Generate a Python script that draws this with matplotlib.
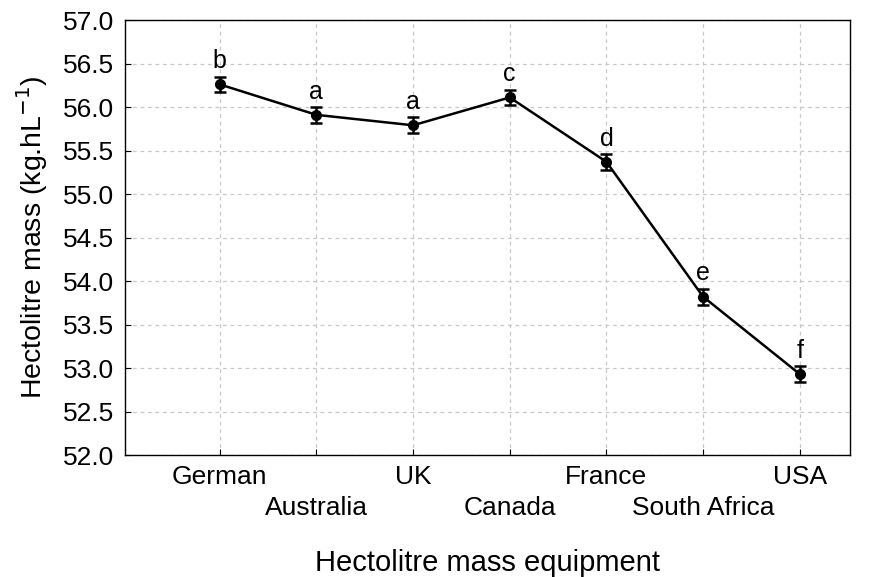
import numpy as np
import matplotlib
matplotlib.use("Agg")
import matplotlib.pyplot as plt

plt.rcParams['font.family'] = ['Liberation Sans', 'DejaVu Sans']

equipment = ["German", "Australia", "UK", "Canada", "France", "South Africa", "USA"]
means = [56.26, 55.91, 55.79, 56.11, 55.37, 53.82, 52.93]
errors = [0.09, 0.09, 0.09, 0.09, 0.09, 0.09, 0.09]
letters = ["b", "a", "a", "c", "d", "e", "f"]

fig = plt.figure(figsize=(8.88, 5.77), dpi=100)
ax = fig.add_axes([0.1408, 0.2114, 0.8164, 0.7539])

x = np.arange(len(equipment))
ax.errorbar(x, means, yerr=errors, color="black", lw=1.8, marker="o", ms=7,
            capsize=4, capthick=1.8, elinewidth=1.8, zorder=3)

for xi, m, e, s in zip(x, means, errors, letters):
    ax.text(xi, m + e + 0.04, s, ha="center", va="bottom", fontsize=18)

ax.set_xlim(-0.98, 6.52)
ax.set_ylim(52.0, 57.0)
ax.set_yticks(np.arange(52.0, 57.01, 0.5))
ax.set_yticklabels(["%.1f" % v for v in np.arange(52.0, 57.01, 0.5)])

# staggered category labels: even ones as tick labels, odd ones one row lower
ax.set_xticks(x)
ax.set_xticklabels([n if i % 2 == 0 else "" for i, n in enumerate(equipment)])
for i, n in enumerate(equipment):
    if i % 2 == 1:
        ax.text(x[i], -0.122, n, transform=ax.get_xaxis_transform(),
                ha="center", va="center", fontsize=19)

ax.grid(True, color="#c8c8c8", ls=(0, (3, 3)), lw=0.9)
ax.tick_params(direction="in", length=4, labelsize=19, color="black")
ax.tick_params(axis="x", pad=7)
ax.tick_params(axis="y", pad=8)
for sp in ax.spines.values():
    sp.set_linewidth(1.0)

ax.set_ylabel("Hectolitre mass (kg.hL$^{-1}$)", fontsize=20.5, labelpad=9)
ax.set_xlabel("Hectolitre mass equipment", fontsize=21)
ax.xaxis.set_label_coords(0.5, -0.248)
ax.xaxis.label.set_va("center")

fig.savefig("out.png", dpi=100)
